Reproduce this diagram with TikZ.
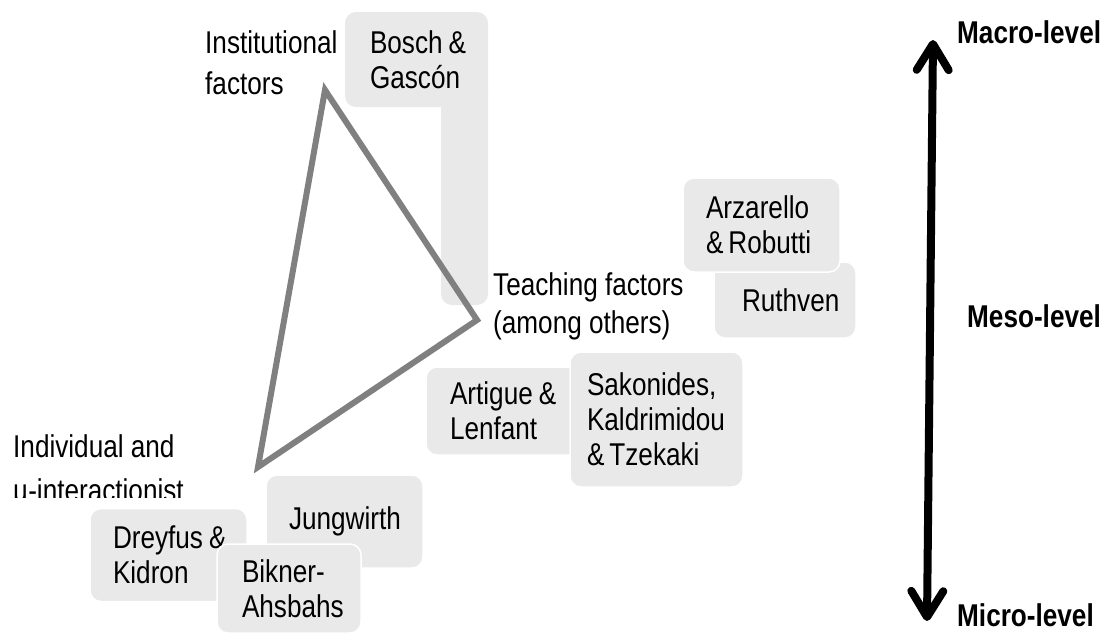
\documentclass[tikz,border=0pt]{standalone}
\usepackage{fontspec}
\setmainfont{Liberation Sans}[FakeStretch=0.83]
\usetikzlibrary{arrows.meta}
\definecolor{boxgray}{RGB}{233,233,233}
\definecolor{trigray}{RGB}{128,128,128}
\newcommand{\oneline}[1]{\mbox{#1}}
\newcommand{\amp}{\hspace{6pt}\&}
\newcommand{\ampfirst}{\&\hspace{5pt}}
\tikzset{
  box/.style={fill=boxgray, draw=white, line width=1.5pt, rounded corners=11pt,
    align=left, inner ysep=0pt, font=\fontsize{31.5}{35}\selectfont},
  freelabel/.style={align=left, inner sep=0pt, anchor=north west,
    font=\fontsize{31.5}{40}\selectfont},
  levellabel/.style={inner sep=0pt, anchor=base west,
    font=\fontsize{31.5}{36}\selectfont\bfseries},
  tri/.style={draw=trigray, line width=6pt, miter limit=20},
  levelarrow/.style={line width=8pt, line cap=round,
    {Straight Barb[length=26pt,width=32pt,round]}-{Straight Barb[length=26pt,width=32pt,round]}}
}
\begin{document}
\begin{tikzpicture}[x=1pt,y=-1pt]
\useasboundingbox (0,0) rectangle (1103,633);

% Bosch & Gascon L-shaped box
\fill[boxgray, rounded corners=11pt] (441,80) rectangle (488,305);
\node[box, draw=none, minimum width=143pt, minimum height=95pt, inner xsep=25pt, text width=93pt]
  (bosch) at (416.5,59.5) {\oneline{Bosch\amp}\\Gascón};

% triangle
\coordinate (inst) at (325,90);
\coordinate (teach) at (477,320);
\coordinate (indiv) at (258,467);
\draw[tri] (inst) -- (teach) -- (indiv) -- cycle;

% triangle labels
\node[freelabel, font=\fontsize{31.5}{41}\selectfont] (instlab) at (205,30) {Institutional\\factors};
\node[freelabel, font=\fontsize{31.5}{38}\selectfont] (teachlab) at (493,272) {\oneline{Teaching factors}\\\oneline{(among others)}};
\begin{scope}
  \clip (0,0) rectangle (260,497);
  \node[freelabel, font=\fontsize{31.5}{44}\selectfont] (indivlab) at (13,434) {\oneline{Individual and}\\µ-interactionist};
\end{scope}

% meso boxes
\node[box, minimum width=142pt, minimum height=76pt, inner xsep=28pt, text width=86pt]
  (ruth) at (785,300) {Ruthven};
\node[box, minimum width=157pt, minimum height=94pt, inner xsep=23pt, text width=111pt]
  (arz) at (761.5,225) {Arzarello\\\oneline{\ampfirst Robutti}};
\node[box, minimum width=164pt, minimum height=88pt, inner xsep=24pt, text width=116pt]
  (art) at (508,411) {\oneline{Artigue\amp}\\Lenfant};
\node[box, minimum width=173pt, minimum height=135pt, inner xsep=17pt, text width=139pt]
  (sak) at (656.5,419.5) {Sakonides,\\Kaldrimidou\\\oneline{\ampfirst Tzekaki}};

% micro boxes
\node[box, minimum width=157pt, minimum height=93pt, inner xsep=23pt, text width=111pt]
  (drey) at (168.5,555) {\oneline{Dreyfus\amp}\\Kidron};
\node[box, minimum width=157pt, minimum height=93pt, inner xsep=23pt, text width=111pt]
  (jung) at (344.5,521.5) {Jungwirth};
\node[box, minimum width=144pt, minimum height=89pt, inner xsep=25pt, text width=94pt]
  (bik) at (289,588.5) {Bikner-\\Ahsbahs};

% level arrow
\coordinate (top) at (933,40);
\coordinate (bot) at (927,621);
\draw[levelarrow] (bot) -- (top);
\node[levellabel] (macro) at (957,43) {Macro-level};
\node[levellabel] (meso) at (967,327) {Meso-level};
\node[levellabel] (micro) at (957,626) {Micro-level};
\end{tikzpicture}
\end{document}
